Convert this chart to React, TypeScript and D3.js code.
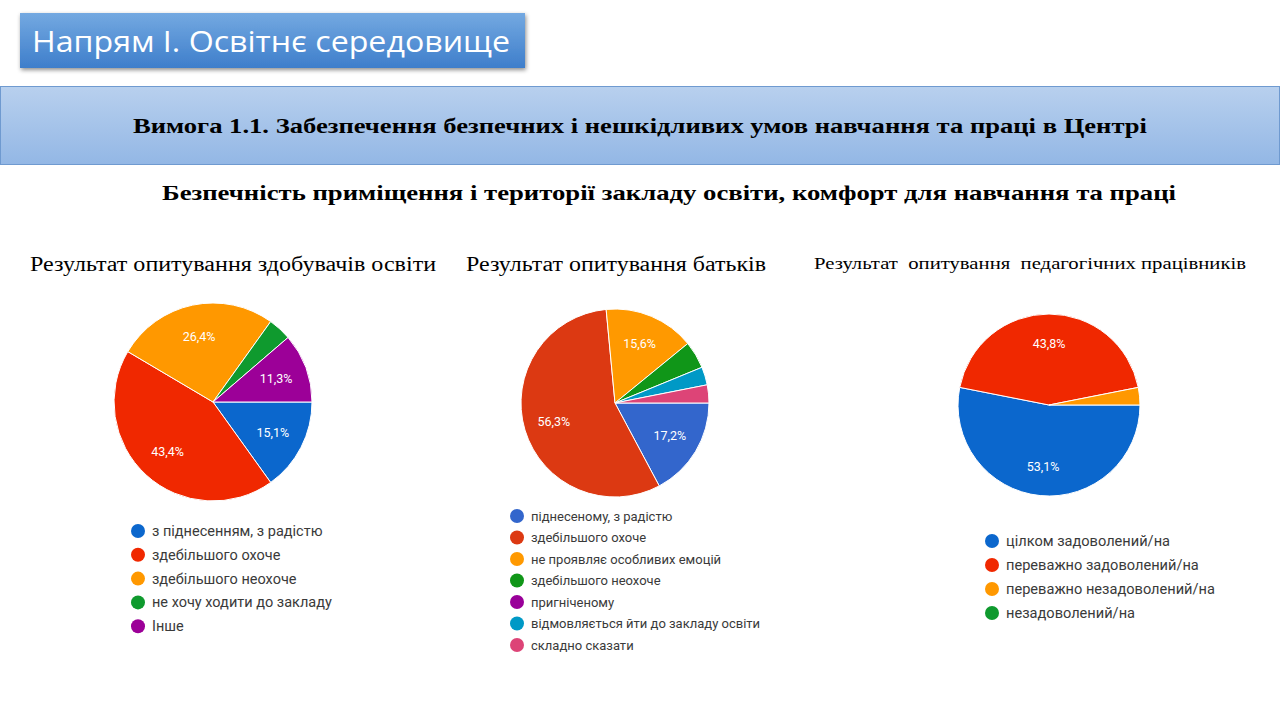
import React from "react";
import * as d3 from "d3";

const headerTitle = "Напрям І. Освітнє середовище";
const bannerTitle = "Вимога 1.1. Забезпечення безпечних і нешкідливих умов навчання та праці в Центрі";
const subTitle = "Безпечність приміщення і території закладу освіти, комфорт для навчання та праці";

const studentsTitle = "Результат опитування здобувачів освіти";
const studentsLabels = [
  "з піднесенням, з радістю",
  "здебільшого охоче",
  "здебільшого неохоче",
  "не хочу ходити до закладу",
  "Інше",
];
const studentsValues = [15.1, 43.4, 26.4, 3.8, 11.3];
const studentsColors = ["#0b67cd", "#f02800", "#ff9800", "#0f9a2e", "#9c0098"];

const parentsTitle = "Результат опитування батьків";
const parentsLabels = [
  "піднесеному, з радістю",
  "здебільшого охоче",
  "не проявляє особливих емоцій",
  "здебільшого неохоче",
  "пригніченому",
  "відмовляється йти до закладу освіти",
  "складно сказати",
];
const parentsValues = [17.2, 56.3, 15.6, 4.7, 0, 3.1, 3.1];
const parentsColors = ["#3366cc", "#dc3912", "#ff9900", "#109618", "#990099", "#0099c6", "#dd4477"];

const teachersTitle = "Результат  опитування  педагогічних працівників";
const teachersLabels = [
  "цілком задоволений/на",
  "переважно задоволений/на",
  "переважно незадоволений/на",
  "незадоволений/на",
];
const teachersValues = [53.1, 43.8, 3.1, 0];
const teachersColors = ["#0b67cd", "#f02800", "#ff9800", "#0f9a2e"];

const SERIF = "'Times New Roman', 'Liberation Serif', serif";
const SANS = "Roboto, Arial, sans-serif";

type PieProps = {
  cx: number;
  cy: number;
  r: number;
  values: number[];
  colors: string[];
  labels: string[];
  legendX: number;
  legendY: number;
  legendStep: number;
  legendFont: number;
};

const fmt = (v: number) => v.toFixed(1).replace(".", ",") + "%";

function Pie({ cx, cy, r, values, colors, labels, legendX, legendY, legendStep, legendFont }: PieProps) {
  const pie = d3
    .pie<number>()
    .sort(null)
    .startAngle(Math.PI / 2)
    .endAngle(Math.PI / 2 + Math.PI * 2)
    .value((d) => d);
  const arcs = pie(values);
  const arc = d3.arc<d3.PieArcDatum<number>>().innerRadius(0).outerRadius(r);
  const labelArc = d3.arc<d3.PieArcDatum<number>>().innerRadius(r * 0.68).outerRadius(r * 0.68);
  return (
    <g>
      <g transform={`translate(${cx},${cy})`}>
        {arcs.map((a, i) =>
          a.value > 0 ? (
            <path key={i} d={arc(a) || ""} fill={colors[i]} stroke="#ffffff" strokeWidth={1} />
          ) : null
        )}
        {arcs.map((a, i) => {
          if (a.value < 5) return null;
          const [x, y] = labelArc.centroid(a);
          return (
            <text
              key={"l" + i}
              x={x}
              y={y}
              dy="0.35em"
              textAnchor="middle"
              fill="#ffffff"
              fontFamily={SANS}
              fontSize={12.5}
            >
              {fmt(a.value)}
            </text>
          );
        })}
      </g>
      {labels.map((l, i) => (
        <g key={"g" + i} transform={`translate(${legendX},${legendY + i * legendStep})`}>
          <circle cx={0} cy={0} r={7} fill={colors[i]} />
          <text x={14} y={0} dy="0.35em" fill="#3a3a3a" fontFamily={SANS} fontSize={legendFont}>
            {l}
          </text>
        </g>
      ))}
    </g>
  );
}

export default function App() {
  return (
    <svg
      width={1280}
      height={720}
      style={{ position: "absolute", left: 0, top: 0, background: "#ffffff" }}
    >
      <defs>
        <linearGradient id="hdrGrad" x1="0" y1="0" x2="0" y2="1">
          <stop offset="0%" stopColor="#74a9e1" />
          <stop offset="100%" stopColor="#3e7ecb" />
        </linearGradient>
        <linearGradient id="banGrad" x1="0" y1="0" x2="0" y2="1">
          <stop offset="0%" stopColor="#b8d0ee" />
          <stop offset="100%" stopColor="#93b7e5" />
        </linearGradient>
        <filter id="shadow" x="-10%" y="-30%" width="120%" height="170%">
          <feDropShadow dx="1" dy="2" stdDeviation="2" floodColor="#000" floodOpacity="0.45" />
        </filter>
      </defs>

      <rect x={20} y={13} width={505} height={55} fill="url(#hdrGrad)" filter="url(#shadow)" />
      <text
        x={32}
        y={52}
        fill="#ffffff"
        fontFamily="'Open Sans', 'Noto Sans', sans-serif"
        fontSize={30}
        textLength={478}
        lengthAdjust="spacingAndGlyphs"
      >
        {headerTitle}
      </text>

      <rect x={0.5} y={86.5} width={1279} height={78} fill="url(#banGrad)" stroke="#6f9ad0" strokeWidth={1} />
      <text
        x={133}
        y={133}
        fill="#000000"
        fontFamily={SERIF}
        fontWeight="bold"
        fontSize={22}
        textLength={1014}
        lengthAdjust="spacingAndGlyphs"
      >
        {bannerTitle}
      </text>

      <text
        x={162}
        y={200}
        fill="#000000"
        fontFamily={SERIF}
        fontWeight="bold"
        fontSize={22}
        textLength={1014}
        lengthAdjust="spacingAndGlyphs"
      >
        {subTitle}
      </text>

      <text x={30} y={271} fontFamily={SERIF} fontSize={20} textLength={406} lengthAdjust="spacingAndGlyphs">
        {studentsTitle}
      </text>
      <text x={466} y={271} fontFamily={SERIF} fontSize={20} textLength={300} lengthAdjust="spacingAndGlyphs">
        {parentsTitle}
      </text>
      <text
        x={814}
        y={269}
        fontFamily={SERIF}
        fontSize={17}
        textLength={432}
        lengthAdjust="spacingAndGlyphs"
        style={{ whiteSpace: "pre" }}
      >
        {teachersTitle}
      </text>

      <Pie
        cx={213}
        cy={402}
        r={99}
        values={studentsValues}
        colors={studentsColors}
        labels={studentsLabels}
        legendX={138}
        legendY={531}
        legendStep={23.8}
        legendFont={14.5}
      />
      <Pie
        cx={615}
        cy={403}
        r={94}
        values={parentsValues}
        colors={parentsColors}
        labels={parentsLabels}
        legendX={517}
        legendY={516}
        legendStep={21.5}
        legendFont={13}
      />
      <Pie
        cx={1049}
        cy={405}
        r={91}
        values={teachersValues}
        colors={teachersColors}
        labels={teachersLabels}
        legendX={992}
        legendY={541}
        legendStep={24}
        legendFont={14.6}
      />
    </svg>
  );
}
